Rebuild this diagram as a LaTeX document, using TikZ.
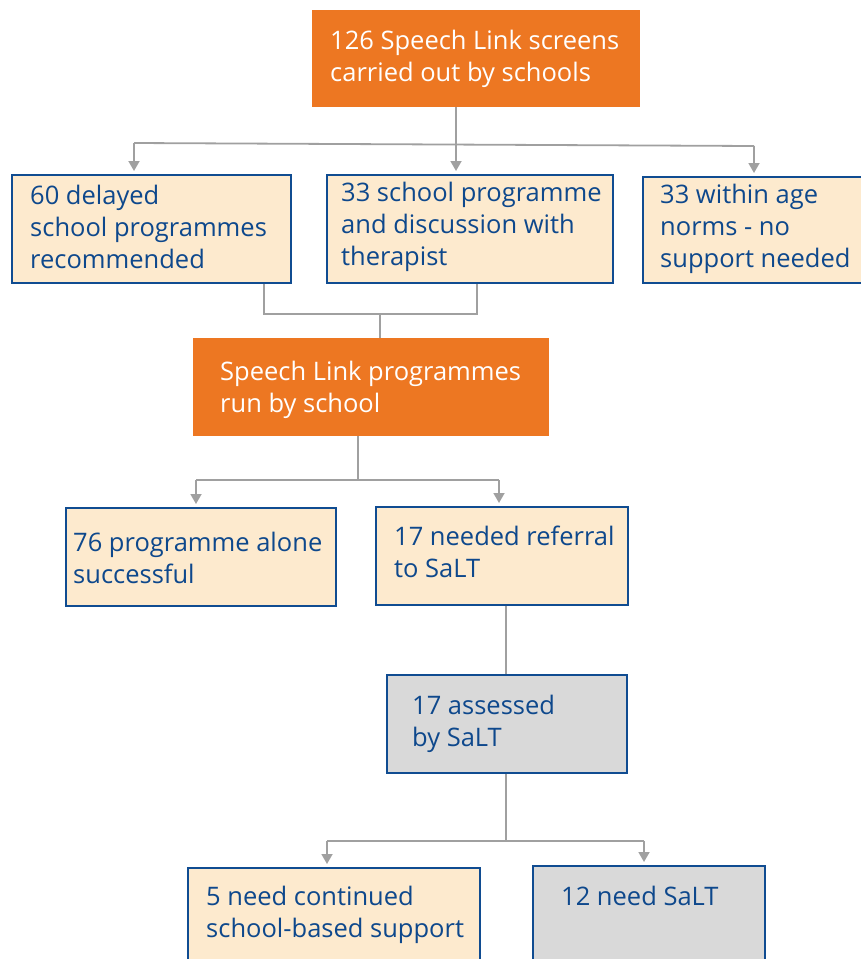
\documentclass[tikz,border=0pt]{standalone}
\usepackage{fontspec}
\usetikzlibrary{arrows.meta}
\newfontfamily\diafont{Open Sans}
\definecolor{orng}{RGB}{237,119,34}
\definecolor{beige}{RGB}{253,234,206}
\definecolor{bblue}{RGB}{16,76,145}
\definecolor{tblue}{RGB}{14,72,140}
\definecolor{gfill}{RGB}{217,217,217}
\definecolor{cgrey}{RGB}{160,160,160}
\newlength\reflen
\begin{document}
\settowidth\reflen{\diafont\fontsize{20}{24}\selectfont 126 Speech Link screens}%
\pgfmathsetmacro\fsz{20*289/\reflen}%
\begin{tikzpicture}[x=1pt,y=-1pt]
\tikzset{
  boxbase/.style={rectangle, inner sep=0pt, anchor=north west},
  obox/.style={boxbase, fill=orng},
  bbox/.style={boxbase, fill=beige, draw=bblue, line width=1.8pt},
  gbox/.style={boxbase, fill=gfill, draw=bblue, line width=1.8pt},
  txt/.style={font=\diafont\fontsize{\fsz}{32}\selectfont, anchor=base west, inner sep=0pt, align=left, text=tblue},
  wtxt/.style={txt, text=white},
  conn/.style={draw=cgrey, line width=1.8pt},
  arr/.style={conn, -{Triangle[width=11pt,length=10pt]}, shorten >=3pt},
}
\useasboundingbox (0,0) rectangle (860,959);
% boxes
\node[obox, minimum width=328pt, minimum height=97pt] (top) at (312,10) {};
\node[bbox, minimum width=279pt, minimum height=108pt] (A) at (11,174) {};
\node[bbox, minimum width=286pt, minimum height=108pt] (B) at (326,174) {};
\node[bbox, minimum width=240pt, minimum height=106pt] (C) at (642,176) {};
\node[obox, minimum width=356pt, minimum height=98pt] (O) at (193,338) {};
\node[bbox, minimum width=270pt, minimum height=98pt] (D) at (65,507) {};
\node[bbox, minimum width=252pt, minimum height=98pt] (E) at (375,506) {};
\node[gbox, minimum width=240pt, minimum height=98pt] (F) at (386,674) {};
\node[bbox, minimum width=292pt, minimum height=123pt] (G) at (187,867) {};
\node[gbox, minimum width=232pt, minimum height=125pt] (H) at (532,865) {};
% texts (anchored at the baseline of their last line)
\node[wtxt] (t0) at (330,81) {126 Speech Link screens\\carried out by schools};
\node[txt] (tA) at (30,268) {60 delayed\\school programmes\\recommended};
\node[txt] (tB) at (341,265) {33 school programme\\and discussion with\\therapist};
\node[txt] (tC) at (660,267) {33 within age\\norms - no\\support needed};
\node[wtxt] (tO) at (220,412) {Speech Link programmes\\run by school};
\node[txt] (tD) at (73,583) {76 programme alone\\successful};
\node[txt] (tE) at (394,577) {17 needed referral\\to SaLT};
\node[txt] (tF) at (412,746) {17 assessed\\by SaLT};
\node[txt] (tG) at (206,937) {5 need continued\\school-based support};
\node[txt] (tH) at (561,905) {12 need SaLT};
% connectors
\coordinate (j1) at (456,144);
\coordinate (hL) at (134,143);
\coordinate (hR) at (754,146);
\draw[conn] (top.south -| j1) -- (j1);
\draw[conn] (hL) -- (hR);
\draw[arr] (hL) -- (A.north -| hL);
\draw[arr] (j1) -- (B.north -| j1);
\draw[arr] (hR) -- (C.north -| hR);
\coordinate (mL) at (264,314);
\coordinate (mR) at (477,314);
\coordinate (mC) at (380,314);
\draw[conn] (A.south -| mL) -- (mL) -- (mR) -- (B.south -| mR);
\draw[conn] (mC) -- (O.north -| mC);
\coordinate (nC) at (358,480);
\coordinate (nL) at (196,480);
\coordinate (nR) at (499,480);
\draw[conn] (O.south -| nC) -- (nC);
\draw[conn] (nL) -- (nR);
\draw[arr] (nL) -- (D.north -| nL);
\draw[arr] (nR) -- (E.north -| nR);
\coordinate (eC) at (506,640);
\draw[conn] (E.south -| eC) -- (F.north -| eC);
\coordinate (pC) at (506,841);
\coordinate (pL) at (327,841);
\coordinate (pR) at (644,841);
\draw[conn] (F.south -| pC) -- (pC);
\draw[conn] (pL) -- (pR);
\draw[arr] (pL) -- (G.north -| pL);
\draw[arr] (pR) -- (H.north -| pR);
\end{tikzpicture}
\end{document}
